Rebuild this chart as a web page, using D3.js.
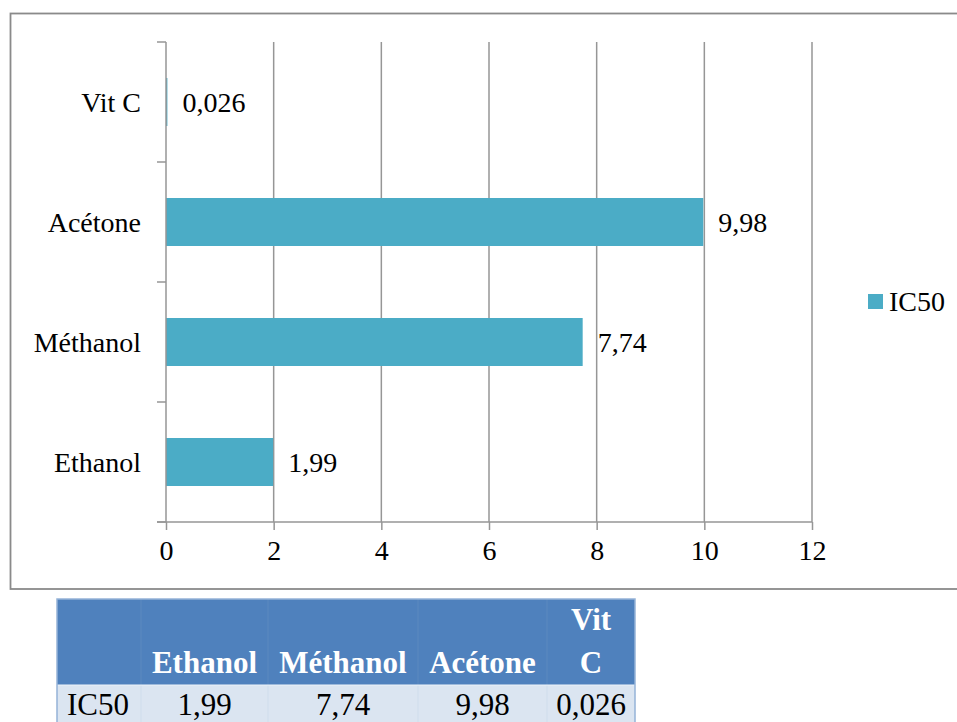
<!DOCTYPE html>
<html>
<head>
<meta charset="utf-8">
<script src="https://cdn.jsdelivr.net/npm/d3@7"></script>
<style>
  html, body { margin: 0; padding: 0; background: #fff; }
  svg { display: block; }
</style>
</head>
<body>
<svg id="chart" width="957" height="722"></svg>
<script>
// IC50 values per extract
const categories = ["Ethanol", "Méthanol", "Acétone", "Vit C"];
const ic50Values = [1.99, 7.74, 9.98, 0.026];
const seriesName = "IC50";
const xTicks = [0, 2, 4, 6, 8, 10, 12];
const tableRowLabel = "IC50";

const frFormat = d3.formatLocale({ decimal: ",", thousands: " ", grouping: [3], currency: ["", " €"] }).format("~g");

const svg = d3.select("#chart");
const serif = "'Liberation Serif', 'Times New Roman', serif";
const barColor = "#4BACC6";
const gridColor = "#969696";

// chart frame
svg.append("rect")
  .attr("x", 10.5).attr("y", 13.5)
  .attr("width", 1000).attr("height", 575.5)
  .attr("fill", "#fff").attr("stroke", "#8a8a8a").attr("stroke-width", 1.8);

const plot = { left: 166, right: 812, top: 42, bottom: 522 };

const x = d3.scaleLinear().domain([0, 12]).range([plot.left, plot.right]);
const y = d3.scaleBand()
  .domain(categories.slice().reverse())
  .range([plot.top, plot.bottom])
  .paddingInner(0.6)
  .paddingOuter(0.3);

const g = svg.append("g");

// vertical gridlines
g.selectAll("line.grid")
  .data(xTicks.filter(t => t !== 0))
  .join("line")
  .attr("class", "grid")
  .attr("x1", d => x(d)).attr("x2", d => x(d))
  .attr("y1", plot.top).attr("y2", plot.bottom)
  .attr("stroke", gridColor).attr("stroke-width", 1.5);

// bars
const data = categories.map((c, i) => ({ c, v: ic50Values[i] }));
g.selectAll("rect.bar")
  .data(data)
  .join("rect")
  .attr("class", "bar")
  .attr("x", x(0))
  .attr("y", d => y(d.c))
  .attr("width", d => x(d.v) - x(0))
  .attr("height", y.bandwidth())
  .attr("fill", barColor);

// value labels
g.selectAll("text.val")
  .data(data)
  .join("text")
  .attr("class", "val")
  .attr("x", d => x(d.v) + 15)
  .attr("y", d => y(d.c) + y.bandwidth() / 2)
  .attr("dy", "0.35em")
  .attr("font-family", serif).attr("font-size", 28)
  .attr("fill", "#000")
  .text(d => frFormat(d.v));

// x axis
const xAxis = d3.axisBottom(x).tickValues(xTicks).tickSize(8).tickPadding(8)
  .tickFormat(d => frFormat(d));
const xg = svg.append("g").attr("transform", `translate(0,${plot.bottom})`).call(xAxis);
xg.select(".domain").remove();
xg.selectAll(".tick line").attr("stroke", gridColor).attr("stroke-width", 1.5);
xg.selectAll(".tick text").attr("font-family", serif).attr("font-size", 28).attr("fill", "#000").attr("dy", "0.8em");
svg.append("line")
  .attr("x1", plot.left - 9).attr("x2", plot.right)
  .attr("y1", plot.bottom).attr("y2", plot.bottom)
  .attr("stroke", gridColor).attr("stroke-width", 1.5);

// y axis: line + ticks at category boundaries
svg.append("line")
  .attr("x1", plot.left).attr("x2", plot.left)
  .attr("y1", plot.top).attr("y2", plot.bottom)
  .attr("stroke", gridColor).attr("stroke-width", 1.5);
const step = y.step();
const boundaries = y.domain().map(c => y(c) - step * y.paddingInner() / 2);
boundaries.push(y(y.domain()[y.domain().length - 1]) + y.bandwidth() + step * y.paddingInner() / 2);
svg.selectAll("line.ytick")
  .data(boundaries)
  .join("line")
  .attr("class", "ytick")
  .attr("x1", plot.left - 9).attr("x2", plot.left)
  .attr("y1", d => d).attr("y2", d => d)
  .attr("stroke", gridColor).attr("stroke-width", 1.5);

// category labels
svg.selectAll("text.cat")
  .data(y.domain())
  .join("text")
  .attr("class", "cat")
  .attr("x", plot.left - 25)
  .attr("y", d => y(d) + y.bandwidth() / 2)
  .attr("dy", "0.35em")
  .attr("text-anchor", "end")
  .attr("font-family", serif).attr("font-size", 28)
  .attr("fill", "#000")
  .text(d => d);

// legend
const lg = svg.append("g").attr("transform", "translate(868,294)");
lg.append("rect").attr("width", 15).attr("height", 15).attr("fill", barColor);
lg.append("text").attr("x", 21).attr("y", 7.5).attr("dy", "0.35em")
  .attr("font-family", serif).attr("font-size", 28).attr("fill", "#000")
  .text(seriesName);

// data table below the chart
const colEdges = [57, 141, 268, 418, 547, 635];
const headTop = 599, headBottom = 685, bodyBottom = 740;
const tg = svg.append("g");
tg.append("rect")
  .attr("x", colEdges[0]).attr("y", headTop)
  .attr("width", colEdges[5] - colEdges[0]).attr("height", headBottom - headTop)
  .attr("fill", "#4F81BD");
tg.append("rect")
  .attr("x", colEdges[0]).attr("y", headBottom)
  .attr("width", colEdges[5] - colEdges[0]).attr("height", bodyBottom - headBottom)
  .attr("fill", "#DBE5F1");
// faint cell dividers
tg.selectAll("line.colh")
  .data(colEdges.slice(1, 5))
  .join("line")
  .attr("x1", d => d).attr("x2", d => d)
  .attr("y1", headTop).attr("y2", headBottom)
  .attr("stroke", "#6690c5").attr("stroke-width", 0.6);
tg.selectAll("line.colb")
  .data(colEdges.slice(1, 5))
  .join("line")
  .attr("x1", d => d).attr("x2", d => d)
  .attr("y1", headBottom).attr("y2", bodyBottom)
  .attr("stroke", "#c9d7ea").attr("stroke-width", 0.6);
tg.append("line")
  .attr("x1", colEdges[0]).attr("x2", colEdges[5])
  .attr("y1", headBottom).attr("y2", headBottom)
  .attr("stroke", "#eef3f9").attr("stroke-width", 1);
tg.append("rect")
  .attr("x", colEdges[0]).attr("y", headTop)
  .attr("width", colEdges[5] - colEdges[0]).attr("height", bodyBottom - headTop)
  .attr("fill", "none").attr("stroke", "#95B3D7").attr("stroke-width", 1.5);

// header labels (bold, bottom-aligned, wrapping in narrow cells)
categories.forEach((c, i) => {
  const cx = (colEdges[i + 1] + colEdges[i + 2]) / 2;
  const width = colEdges[i + 2] - colEdges[i + 1] - 20;
  const t = tg.append("text")
    .attr("font-family", serif).attr("font-size", 31).attr("font-weight", "bold")
    .attr("fill", "#fff").attr("text-anchor", "middle");
  t.text(c);
  const lines = t.node().getComputedTextLength() > width ? c.split(" ") : [c];
  t.text(null);
  lines.forEach((ln, k) => {
    t.append("tspan")
      .attr("x", cx)
      .attr("y", 673 - (lines.length - 1 - k) * 43)
      .text(ln);
  });
});

// body row
tg.append("text")
  .attr("x", colEdges[0] + 10).attr("y", 715)
  .attr("font-family", serif).attr("font-size", 31).attr("fill", "#000")
  .text(tableRowLabel);
tg.selectAll("text.cell")
  .data(ic50Values)
  .join("text")
  .attr("class", "cell")
  .attr("x", (d, i) => (colEdges[i + 1] + colEdges[i + 2]) / 2)
  .attr("y", 715)
  .attr("text-anchor", "middle")
  .attr("font-family", serif).attr("font-size", 31).attr("fill", "#000")
  .text(d => frFormat(d));
</script>
</body>
</html>
